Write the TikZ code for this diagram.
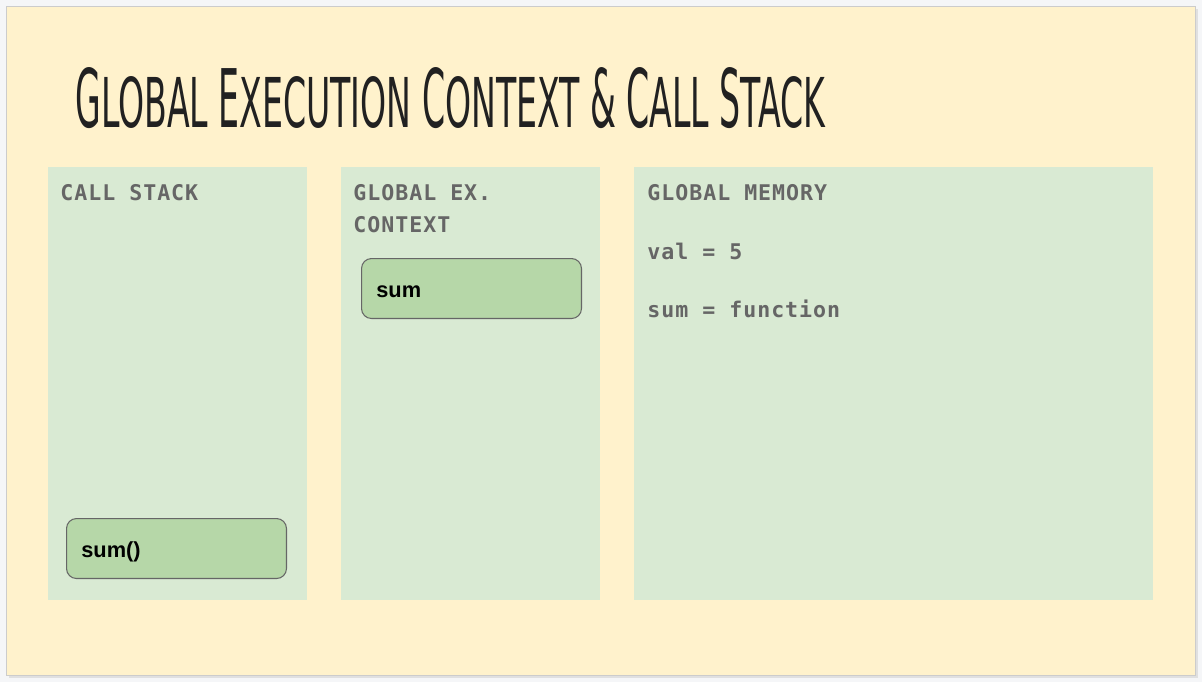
\documentclass[tikz,border=0pt]{standalone}
\usepackage{fontspec}
\usepackage{graphicx}
\newfontfamily\titlefont{DejaVu Sans Condensed}
\newfontfamily\labelfont[LetterSpace=4.5,BoldFont={DejaVu Sans Mono Bold}]{DejaVu Sans Mono}
\newfontfamily\boxfont{Liberation Sans}
\definecolor{pagebg}{HTML}{F5F6F8}
\definecolor{cream}{HTML}{FFF2CC}
\definecolor{panelgreen}{HTML}{D9EAD3}
\definecolor{boxgreen}{HTML}{B6D7A8}
\definecolor{labelgrey}{HTML}{666666}
\newcommand\smallcap[1]{\scalebox{1}[0.85]{\MakeUppercase{#1}}}
\tikzset{
  panel/.style={fill=panelgreen,inner sep=0pt,anchor=north west,minimum height=8.66cm},
  framebox/.style={draw=labelgrey,fill=boxgreen,rounded corners=0.2cm,line width=0.6pt,
    inner sep=0pt,anchor=north west,minimum width=4.4cm,minimum height=1.2cm},
  heading/.style={anchor=base west,inner sep=0pt,text=labelgrey,
    font=\labelfont\bfseries\fontsize{12.3}{14}\selectfont},
  boxtext/.style={anchor=base west,inner sep=0pt,font=\boxfont\bfseries\fontsize{12.4}{14}\selectfont}
}
\begin{document}
\begin{tikzpicture}[x=0.02cm,y=-0.02cm]
	\useasboundingbox[fill=pagebg] (0,0) rectangle (1202,682);
	% slide
	\fill[black!12] (9,9) rectangle (1198,678);
	\draw[fill=cream,draw=black!20,line width=0.6pt] (6.5,6.5) rectangle (1195.5,675.5);
	\node[anchor=west,inner sep=0pt,text=black!87] (title) at (75,98)
		{\resizebox{15cm}{1.2cm}{\titlefont G\smallcap{lobal} E\smallcap{xecution} C\smallcap{ontext} \& C\smallcap{all} S\smallcap{tack}}};
	% panels
	\node[panel,minimum width=5.18cm] (stack) at (48,167) {};
	\node[panel,minimum width=5.18cm] (context) at (341,167) {};
	\node[panel,minimum width=10.38cm] (memory) at (634,167) {};
	% headings
	\node[heading] (stackhead) at (60,200) {CALL STACK};
	\node[heading] (ctxhead) at (353,200) {GLOBAL EX.};
	\node[heading] (ctxhead2) at (353,232) {CONTEXT};
	\node[heading] (memhead) at (647,200) {GLOBAL MEMORY};
	\node[heading] (memval) at (647,259) {val = 5};
	\node[heading] (memsum) at (647,317) {sum = function};
	% frames
	\node[framebox] (callbox) at (66,518) {};
	\node[boxtext] (calltext) at (81,557) {sum()};
	\node[framebox] (sumbox) at (361,258) {};
	\node[boxtext] (sumtext) at (376,297) {sum};
\end{tikzpicture}
\end{document}
